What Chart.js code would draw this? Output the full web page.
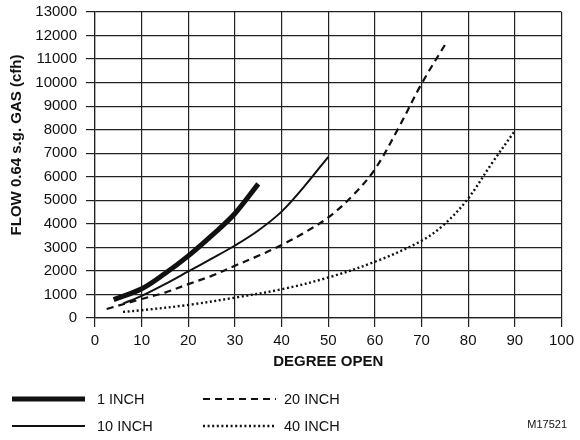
<!DOCTYPE html>
<html>
<head>
<meta charset="utf-8">
<script src="https://cdn.jsdelivr.net/npm/chart.js@4/dist/chart.umd.min.js"></script>
<style>
  html, body { margin: 0; padding: 0; background: #fff; }
  #wrap { width: 580px; height: 440px; }
</style>
</head>
<body>
<div id="wrap"><canvas id="myChart" width="580" height="440"></canvas></div>
<script>
// values
const oneInchX = [4, 10, 15, 20, 25, 30, 35];
const oneInchY = [780, 1240, 1890, 2640, 3500, 4440, 5700];

const tenInchX = [6, 10, 15, 20, 25, 30, 35, 40, 45, 50];
const tenInchY = [610, 940, 1440, 1980, 2520, 3080, 3720, 4520, 5620, 6850];

const twentyInchX = [2.5, 10, 15, 20, 25, 30, 35, 40, 45, 50, 55, 60, 65, 70, 75];
const twentyInchY = [380, 810, 1080, 1440, 1790, 2220, 2640, 3100, 3640, 4270, 5150, 6320, 8050, 9950, 11600];

const fortyInchX = [6, 10, 20, 30, 40, 50, 60, 70, 75, 80, 85, 90];
const fortyInchY = [260, 330, 555, 865, 1220, 1720, 2390, 3280, 4000, 5080, 6550, 7950];

const seriesNames = ["1 INCH", "10 INCH", "20 INCH", "40 INCH"];
const xTitle = "DEGREE OPEN";
const yTitle = "FLOW 0.64 s.g. GAS (cfh)";
const figureId = "M17521";

const FONT = "'Liberation Sans', Arial, sans-serif";
const INK = "#111";
const GRID = "#222";

const toPoints = (xs, ys) => xs.map((x, i) => ({ x: x, y: ys[i] }));

const lineStyles = [
  { width: 5, dash: [] },
  { width: 2, dash: [] },
  { width: 2.2, dash: [7, 5] },
  { width: 2.4, dash: [2, 2.6] },
];

// legend + rotated y title + figure number drawn by hand
const extrasPlugin = {
  id: "extras",
  afterDraw(chart) {
    const ctx = chart.ctx;
    ctx.save();
    ctx.fillStyle = INK;
    ctx.strokeStyle = INK;

    // y title
    ctx.font = "bold 15px " + FONT;
    ctx.textAlign = "center";
    ctx.textBaseline = "middle";
    ctx.translate(17, 145);
    ctx.rotate(-Math.PI / 2);
    ctx.fillText(yTitle, 0, 0);
    ctx.setTransform(1, 0, 0, 1, 0, 0);

    // legend, 2 x 2
    const cells = [
      { x0: 12, x1: 85, tx: 97, y: 399 },
      { x0: 12, x1: 85, tx: 97, y: 426 },
      { x0: 203, x1: 276, tx: 284, y: 399 },
      { x0: 203, x1: 276, tx: 284, y: 426 },
    ];
    ctx.font = "14.5px " + FONT;
    ctx.textAlign = "left";
    seriesNames.forEach((name, i) => {
      const c = cells[i];
      const st = lineStyles[i];
      ctx.beginPath();
      ctx.lineWidth = st.width;
      ctx.setLineDash(st.dash);
      ctx.moveTo(c.x0, c.y);
      ctx.lineTo(c.x1, c.y);
      ctx.stroke();
      ctx.setLineDash([]);
      ctx.fillText(name, c.tx, c.y + 1);
    });

    ctx.font = "11px " + FONT;
    ctx.textAlign = "right";
    ctx.fillText(figureId, 567, 425);
    ctx.restore();
  },
};

const ctx = document.getElementById("myChart").getContext("2d");
new Chart(ctx, {
  type: "line",
  data: {
    datasets: [
      { label: seriesNames[0], data: toPoints(oneInchX, oneInchY) },
      { label: seriesNames[1], data: toPoints(tenInchX, tenInchY) },
      { label: seriesNames[2], data: toPoints(twentyInchX, twentyInchY) },
      { label: seriesNames[3], data: toPoints(fortyInchX, fortyInchY) },
    ].map((ds, i) => ({
      ...ds,
      borderColor: INK,
      borderWidth: lineStyles[i].width,
      borderDash: lineStyles[i].dash,
      tension: 0.35,
      pointRadius: 0,
      fill: false,
    })),
  },
  options: {
    responsive: false,
    animation: false,
    layout: { padding: { left: 0, right: 14, top: 8, bottom: 71 } },
    plugins: { legend: { display: false }, tooltip: { enabled: false } },
    scales: {
      x: {
        type: "linear",
        min: 0,
        max: 100,
        ticks: { stepSize: 10, color: INK, padding: 6, font: { family: FONT, size: 15, lineHeight: 1 } },
        grid: { color: GRID, lineWidth: 1.2, tickLength: 9, tickColor: GRID },
        border: { color: GRID, width: 1.2 },
        title: {
          display: true,
          text: xTitle,
          color: INK,
          padding: { top: 0, bottom: 0 },
          font: { family: FONT, size: 15, weight: "bold", lineHeight: 1 },
        },
      },
      y: {
        min: 0,
        max: 13000,
        ticks: {
          stepSize: 1000,
          color: INK,
          padding: 9,
          font: { family: FONT, size: 15, lineHeight: 0.4 },
          callback: (v) => String(v), // no thousands separator
        },
        grid: { color: GRID, lineWidth: 1.2, tickLength: 9, tickColor: GRID },
        border: { color: GRID, width: 1.2 },
        afterFit(scale) {
          scale.width = 95; // plot starts at x=95 like the original
        },
      },
    },
  },
  plugins: [extrasPlugin],
});
</script>
</body>
</html>
